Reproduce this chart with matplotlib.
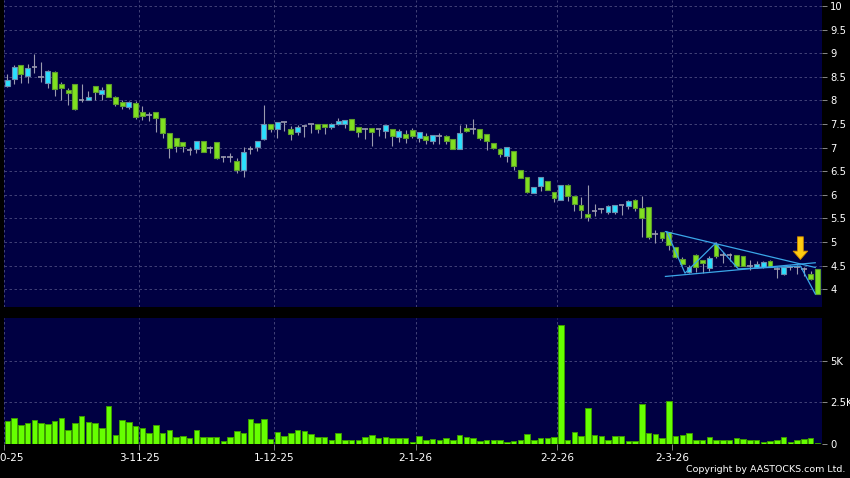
import numpy as np
import matplotlib
matplotlib.use('Agg')
import matplotlib.pyplot as plt

# daily OHLC, one entry per trading day (2-10-25 .. 30-3-26)
opens = [8.31, 8.45, 8.74, 8.52, 8.71, 8.50, 8.36, 8.61, 8.34, 8.21,
         8.34, 8.01, 8.00, 8.30, 8.14, 8.34, 8.08, 7.96, 7.85, 7.94,
         7.75, 7.69, 7.75, 7.62, 7.30, 7.20, 7.11, 6.95, 6.96, 7.15,
         6.99, 7.11, 6.81, 6.81, 6.72, 6.53, 6.96, 7.02, 7.18, 7.49,
         7.39, 7.54, 7.39, 7.32, 7.46, 7.49, 7.49, 7.49, 7.43, 7.51,
         7.51, 7.61, 7.44, 7.39, 7.41, 7.39, 7.36, 7.39, 7.23, 7.28,
         7.37, 7.21, 7.25, 7.14, 7.25, 7.25, 7.18, 6.96, 7.41, 7.39,
         7.39, 7.28, 7.09, 6.97, 6.83, 6.93, 6.53, 6.38, 6.03, 6.19,
         6.29, 6.05, 5.88, 6.21, 5.97, 5.78, 5.59, 5.66, 5.69, 5.64,
         5.64, 5.78, 5.77, 5.88, 5.71, 5.75, 5.16, 5.21, 5.22, 4.89,
         4.65, 4.37, 4.72, 4.61, 4.44, 4.95, 4.72, 4.72, 4.72, 4.71,
         4.49, 4.48, 4.46, 4.60, 4.43, 4.32, 4.48, 4.46, 4.43, 4.32,
         4.43]
highs = [8.56, 8.75, 8.76, 8.77, 8.98, 8.82, 8.64, 8.62, 8.40, 8.27,
         8.34, 8.34, 8.20, 8.30, 8.29, 8.34, 8.10, 8.01, 7.98, 7.98,
         7.89, 7.75, 7.75, 7.62, 7.30, 7.20, 7.11, 7.02, 7.15, 7.15,
         7.04, 7.11, 6.83, 6.88, 6.77, 7.02, 7.04, 7.15, 7.90, 7.51,
         7.55, 7.55, 7.46, 7.48, 7.47, 7.50, 7.49, 7.49, 7.53, 7.62,
         7.58, 7.61, 7.44, 7.42, 7.41, 7.40, 7.48, 7.39, 7.39, 7.37,
         7.41, 7.34, 7.30, 7.27, 7.30, 7.26, 7.18, 7.48, 7.51, 7.61,
         7.39, 7.28, 7.10, 6.97, 7.01, 6.93, 6.53, 6.38, 6.17, 6.38,
         6.30, 6.05, 6.21, 6.23, 5.97, 5.96, 6.21, 5.80, 5.73, 5.78,
         5.78, 5.79, 5.88, 5.91, 5.98, 5.75, 5.25, 5.22, 5.22, 4.89,
         4.68, 4.51, 4.75, 4.62, 4.71, 5.00, 4.78, 4.77, 4.73, 4.71,
         4.62, 4.60, 4.60, 4.62, 4.48, 4.48, 4.52, 4.52, 4.48, 4.39,
         4.43]
lows = [8.28, 8.35, 8.37, 8.37, 8.58, 8.38, 8.27, 8.10, 8.01, 7.90,
        7.80, 7.97, 8.00, 8.01, 8.01, 8.07, 7.89, 7.82, 7.82, 7.61,
        7.59, 7.57, 7.32, 7.21, 6.79, 6.91, 6.91, 6.84, 6.88, 6.91,
        6.89, 6.75, 6.70, 6.70, 6.46, 6.38, 6.86, 6.93, 7.16, 7.34,
        7.20, 7.35, 7.16, 7.27, 7.23, 7.30, 7.30, 7.28, 7.40, 7.48,
        7.41, 7.37, 7.23, 7.18, 7.04, 7.25, 7.21, 7.04, 7.11, 7.09,
        7.20, 7.11, 7.07, 7.07, 7.07, 7.07, 6.96, 6.96, 7.34, 7.28,
        7.16, 6.95, 6.97, 6.81, 6.70, 6.53, 6.35, 6.04, 6.03, 6.07,
        6.10, 5.84, 5.88, 5.87, 5.66, 5.50, 5.45, 5.56, 5.61, 5.59,
        5.59, 5.57, 5.70, 5.66, 5.11, 5.06, 4.97, 5.03, 4.83, 4.66,
        4.51, 4.34, 4.36, 4.34, 4.39, 4.67, 4.55, 4.59, 4.48, 4.50,
        4.41, 4.45, 4.44, 4.46, 4.24, 4.31, 4.40, 4.32, 4.27, 4.19,
        3.89]
closes = [8.43, 8.71, 8.55, 8.69, 8.71, 8.50, 8.62, 8.24, 8.26, 8.15,
          7.82, 8.01, 8.07, 8.18, 8.21, 8.07, 7.92, 7.89, 7.96, 7.65,
          7.66, 7.69, 7.63, 7.30, 6.99, 7.04, 7.04, 6.95, 7.15, 6.91,
          6.99, 6.79, 6.81, 6.81, 6.53, 6.90, 6.96, 7.15, 7.51, 7.39,
          7.55, 7.54, 7.28, 7.44, 7.46, 7.49, 7.39, 7.43, 7.51, 7.56,
          7.58, 7.37, 7.34, 7.39, 7.34, 7.39, 7.48, 7.25, 7.35, 7.21,
          7.25, 7.32, 7.16, 7.27, 7.25, 7.13, 6.96, 7.30, 7.36, 7.39,
          7.21, 7.13, 6.99, 6.86, 7.01, 6.60, 6.36, 6.05, 6.17, 6.38,
          6.10, 5.93, 6.21, 5.98, 5.80, 5.67, 5.52, 5.66, 5.69, 5.76,
          5.78, 5.78, 5.87, 5.71, 5.51, 5.11, 5.16, 5.08, 4.94, 4.69,
          4.53, 4.48, 4.46, 4.56, 4.67, 4.71, 4.72, 4.72, 4.50, 4.50,
          4.49, 4.54, 4.58, 4.48, 4.43, 4.46, 4.48, 4.46, 4.43, 4.22,
          3.89]
# volume in thousands
volume = [1.37, 1.54, 1.09, 1.25, 1.41, 1.25, 1.19, 1.39, 1.52, 0.83,
          1.25, 1.64, 1.27, 1.25, 0.91, 2.28, 0.51, 1.43, 1.27, 1.05,
          0.91, 0.63, 1.13, 0.63, 0.83, 0.38, 0.44, 0.36, 0.81, 0.38,
          0.38, 0.40, 0.18, 0.42, 0.73, 0.61, 1.47, 1.23, 1.49, 0.30,
          0.67, 0.48, 0.61, 0.79, 0.73, 0.55, 0.38, 0.38, 0.22, 0.63,
          0.20, 0.24, 0.22, 0.38, 0.53, 0.32, 0.42, 0.34, 0.34, 0.34,
          0.10, 0.48, 0.24, 0.30, 0.20, 0.36, 0.22, 0.51, 0.38, 0.32,
          0.16, 0.20, 0.20, 0.20, 0.10, 0.18, 0.20, 0.55, 0.24, 0.36,
          0.32, 0.40, 7.17, 0.24, 0.71, 0.44, 2.12, 0.51, 0.44, 0.20,
          0.48, 0.48, 0.16, 0.16, 2.40, 0.65, 0.57, 0.32, 2.59, 0.48,
          0.53, 0.61, 0.24, 0.24, 0.38, 0.24, 0.20, 0.20, 0.32, 0.26,
          0.24, 0.24, 0.12, 0.14, 0.24, 0.38, 0.12, 0.24, 0.30, 0.32,
          0.05]

# date ticks (trading-day index of first day of each month)
tick_days = [0, 20, 40, 61, 82, 99]
tick_labels = ['2-10-25', '3-11-25', '1-12-25', '2-1-26', '2-2-26', '2-3-26']

# drawn pattern: triangle + zigzag (day index, price)
upper_x, upper_y = [97.5, 119.7], [5.22, 4.46]
lower_x, lower_y = [97.5, 119.7], [4.27, 4.56]
zig_x = [97.7, 100.4, 104.9, 108.3, 117.5, 119.7]
zig_y = [5.22, 4.34, 4.97, 4.43, 4.49, 3.90]
arrow_day, arrow_top, arrow_tip = 117.5, 5.11, 4.63

o = np.array(opens); h = np.array(highs); l = np.array(lows); c = np.array(closes)
x = np.arange(len(o))

BG = '#000042'
GRID = '#4c4c80'
TXT = 'white'

fig = plt.figure(figsize=(8.5, 4.78), dpi=100, facecolor='black')
ax1 = fig.add_axes([4/850, (478-306.7)/478, 818/850, 306.7/478])
ax2 = fig.add_axes([4/850, (478-443.5)/478, 818/850, 125.2/478])

for ax in (ax1, ax2):
    ax.set_facecolor(BG)
    for s in ax.spines.values():
        s.set_visible(False)
    ax.set_xlim(-0.45, 120.7)
    ax.set_xticks(np.array(tick_days) - 0.5)
    ax.yaxis.tick_right()
    ax.grid(True, color=GRID, linestyle=(0, (3, 3)), linewidth=0.6)
    ax.set_axisbelow(True)
    ax.tick_params(axis='y', colors='#a0a0a0', labelcolor=TXT, length=3.5,
                   width=0.6, pad=2.5, labelsize=7.2)

# --- candles
up = c > o
down = c < o
flat = c == o
ax1.vlines(x, l, h, color='#9a9aae', linewidth=0.8, zorder=2)
ax1.bar(x[down], (o - c)[down], bottom=c[down], width=0.72,
        color='#80e020', edgecolor='#5c9c2c', linewidth=0.8, zorder=3)
ax1.bar(x[up], (c - o)[up], bottom=o[up], width=0.72,
        color='#2ae0ff', edgecolor='#6a8cae', linewidth=0.8, zorder=3)
ax1.hlines(o[flat], x[flat] - 0.42, x[flat] + 0.42, color='#9a9aae',
           linewidth=1.2, zorder=3)

# --- pattern lines and arrow
ax1.plot(upper_x, upper_y, color='#3aa6e8', linewidth=0.9, zorder=4)
ax1.plot(lower_x, lower_y, color='#3aa6e8', linewidth=0.9, zorder=4)
ax1.plot(zig_x, zig_y, color='#3aa6e8', linewidth=0.9, zorder=4)
ax1.annotate('', xy=(arrow_day, arrow_tip), xytext=(arrow_day, arrow_top),
             arrowprops=dict(arrowstyle='simple,head_width=1.05,head_length=0.6,tail_width=0.42',
                             mutation_scale=10, shrinkA=0, shrinkB=0,
                             fc='#ffcc10', ec='#d08a00', lw=0.6), zorder=5)

ax1.set_ylim(3.629, 10.127)
ax1.set_yticks(np.arange(4, 10.01, 0.5))
ax1.set_yticklabels(['%g' % v for v in np.arange(4, 10.01, 0.5)])
ax1.tick_params(axis='x', length=0, labelbottom=False)

# --- volume
ax2.bar(x, volume, width=0.82, color='#66ff00', edgecolor='#3c9a00',
        linewidth=0.7, zorder=3)
ax2.set_ylim(0, 7.57)
ax2.set_yticks([0, 2.5, 5])
ax2.set_yticklabels(['0', '2.5K', '5K'])
ax2.set_xticklabels(tick_labels)
ax2.tick_params(axis='x', colors='#909090', labelcolor=TXT, length=4,
                width=0.6, pad=3, labelsize=7.5)

fig.text(0.994, 0.008, 'Copyright by AASTOCKS.com Ltd.', ha='right', va='bottom',
         color=TXT, fontsize=6.8)

fig.savefig('out.png', dpi=100, facecolor='black')
